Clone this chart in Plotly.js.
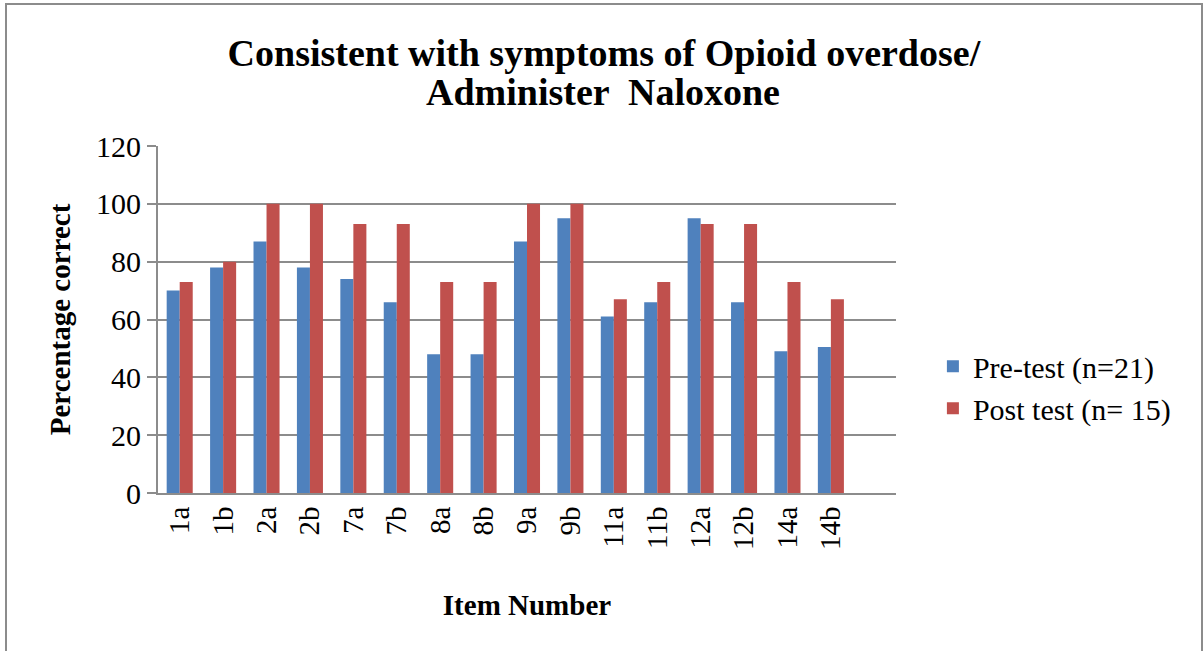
<!DOCTYPE html>
<html>
<head>
<meta charset="utf-8">
<script src="https://cdn.plot.ly/plotly-3.0.1.min.js"></script>
<style>
  html, body { margin: 0; padding: 0; overflow: hidden; background: #fff; }
  #chart { width: 1203px; height: 651px; position: absolute; left: 0; top: 0; }
  #frame { position: absolute; left: 5px; top: 3px; width: 1194px; height: 700px;
           border: 2px solid #8c8c8c; pointer-events: none; }
</style>
</head>
<body>
<div id="chart"></div>
<div id="frame"></div>
<script>
const items = ["1a","1b","2a","2b","7a","7b","8a","8b","9a","9b","11a","11b","12a","12b","14a","14b"];
const preTest = [70, 78, 87, 78, 74, 66, 48, 48, 87, 95, 61, 66, 95, 66, 49, 50.5];
const postTest = [73, 80, 100, 100, 93, 93, 73, 73, 100, 100, 67, 73, 93, 93, 73, 67];
const yTicks = [0, 20, 40, 60, 80, 100, 120];
const titleLines = ["Consistent with symptoms of Opioid overdose/", "Administer  Naloxone"];

const serif = "Liberation Serif";

const traces = [
  { type: "bar", name: "Pre-test (n=21)", x: items, y: preTest,
    marker: { color: "#4F81BD" } },
  { type: "bar", name: "Post test (n= 15)", x: items, y: postTest,
    marker: { color: "#C0504D" } }
];

const layout = {
  width: 1203, height: 651,
  paper_bgcolor: "rgba(0,0,0,0)", plot_bgcolor: "#fff",
  margin: { l: 158, r: 307, t: 146, b: 158 },
  barmode: "group", bargap: 0.4, bargroupgap: 0,
  font: { family: serif, color: "#000" },
  title: {
    text: "<b>" + titleLines[0] + "</b>",
    font: { family: serif, size: 38, color: "#000" },
    x: 0.502, xref: "container", xanchor: "center",
    y: 0.94, yref: "container", yanchor: "top"
  },
  annotations: [{
    text: "<b>" + titleLines[1] + "</b>",
    font: { family: serif, size: 38, color: "#000" },
    xref: "paper", yref: "paper", x: 0.603, y: 1.157,
    xanchor: "center", yanchor: "middle", showarrow: false
  }],
  xaxis: {
    type: "category", categoryorder: "array", categoryarray: items,
    range: [-0.5, 16.5],
    tickangle: -90, tickfont: { family: serif, size: 29, color: "#000" },
    showgrid: false, showline: true, linecolor: "#8c8c8c", linewidth: 2,
    ticks: "", ticklen: 0,
    title: { text: "<b>Item Number</b>", font: { family: serif, size: 29, color: "#000" }, standoff: 46 }
  },
  yaxis: {
    range: [0, 120], tickvals: yTicks, ticktext: yTicks.map(String),
    tickfont: { family: serif, size: 30, color: "#000" },
    showgrid: true, gridcolor: "#8c8c8c", gridwidth: 2,
    showline: true, linecolor: "#8c8c8c", linewidth: 2,
    ticks: "outside", ticklen: 9, tickcolor: "#8c8c8c", tickwidth: 2,
    zeroline: false,
    title: { text: "<b>Percentage correct</b>", font: { family: serif, size: 29, color: "#000" }, standoff: 17 }
  },
  legend: {
    x: 1.05, xanchor: "left", y: 0.305, yanchor: "middle",
    font: { family: serif, size: 30, color: "#000" }, itemwidth: 30, tracegroupgap: 14,
    bgcolor: "rgba(0,0,0,0)"
  },
  showlegend: true
};

Plotly.newPlot("chart", traces, layout, { staticPlot: true, displayModeBar: false });
</script>
</body>
</html>
